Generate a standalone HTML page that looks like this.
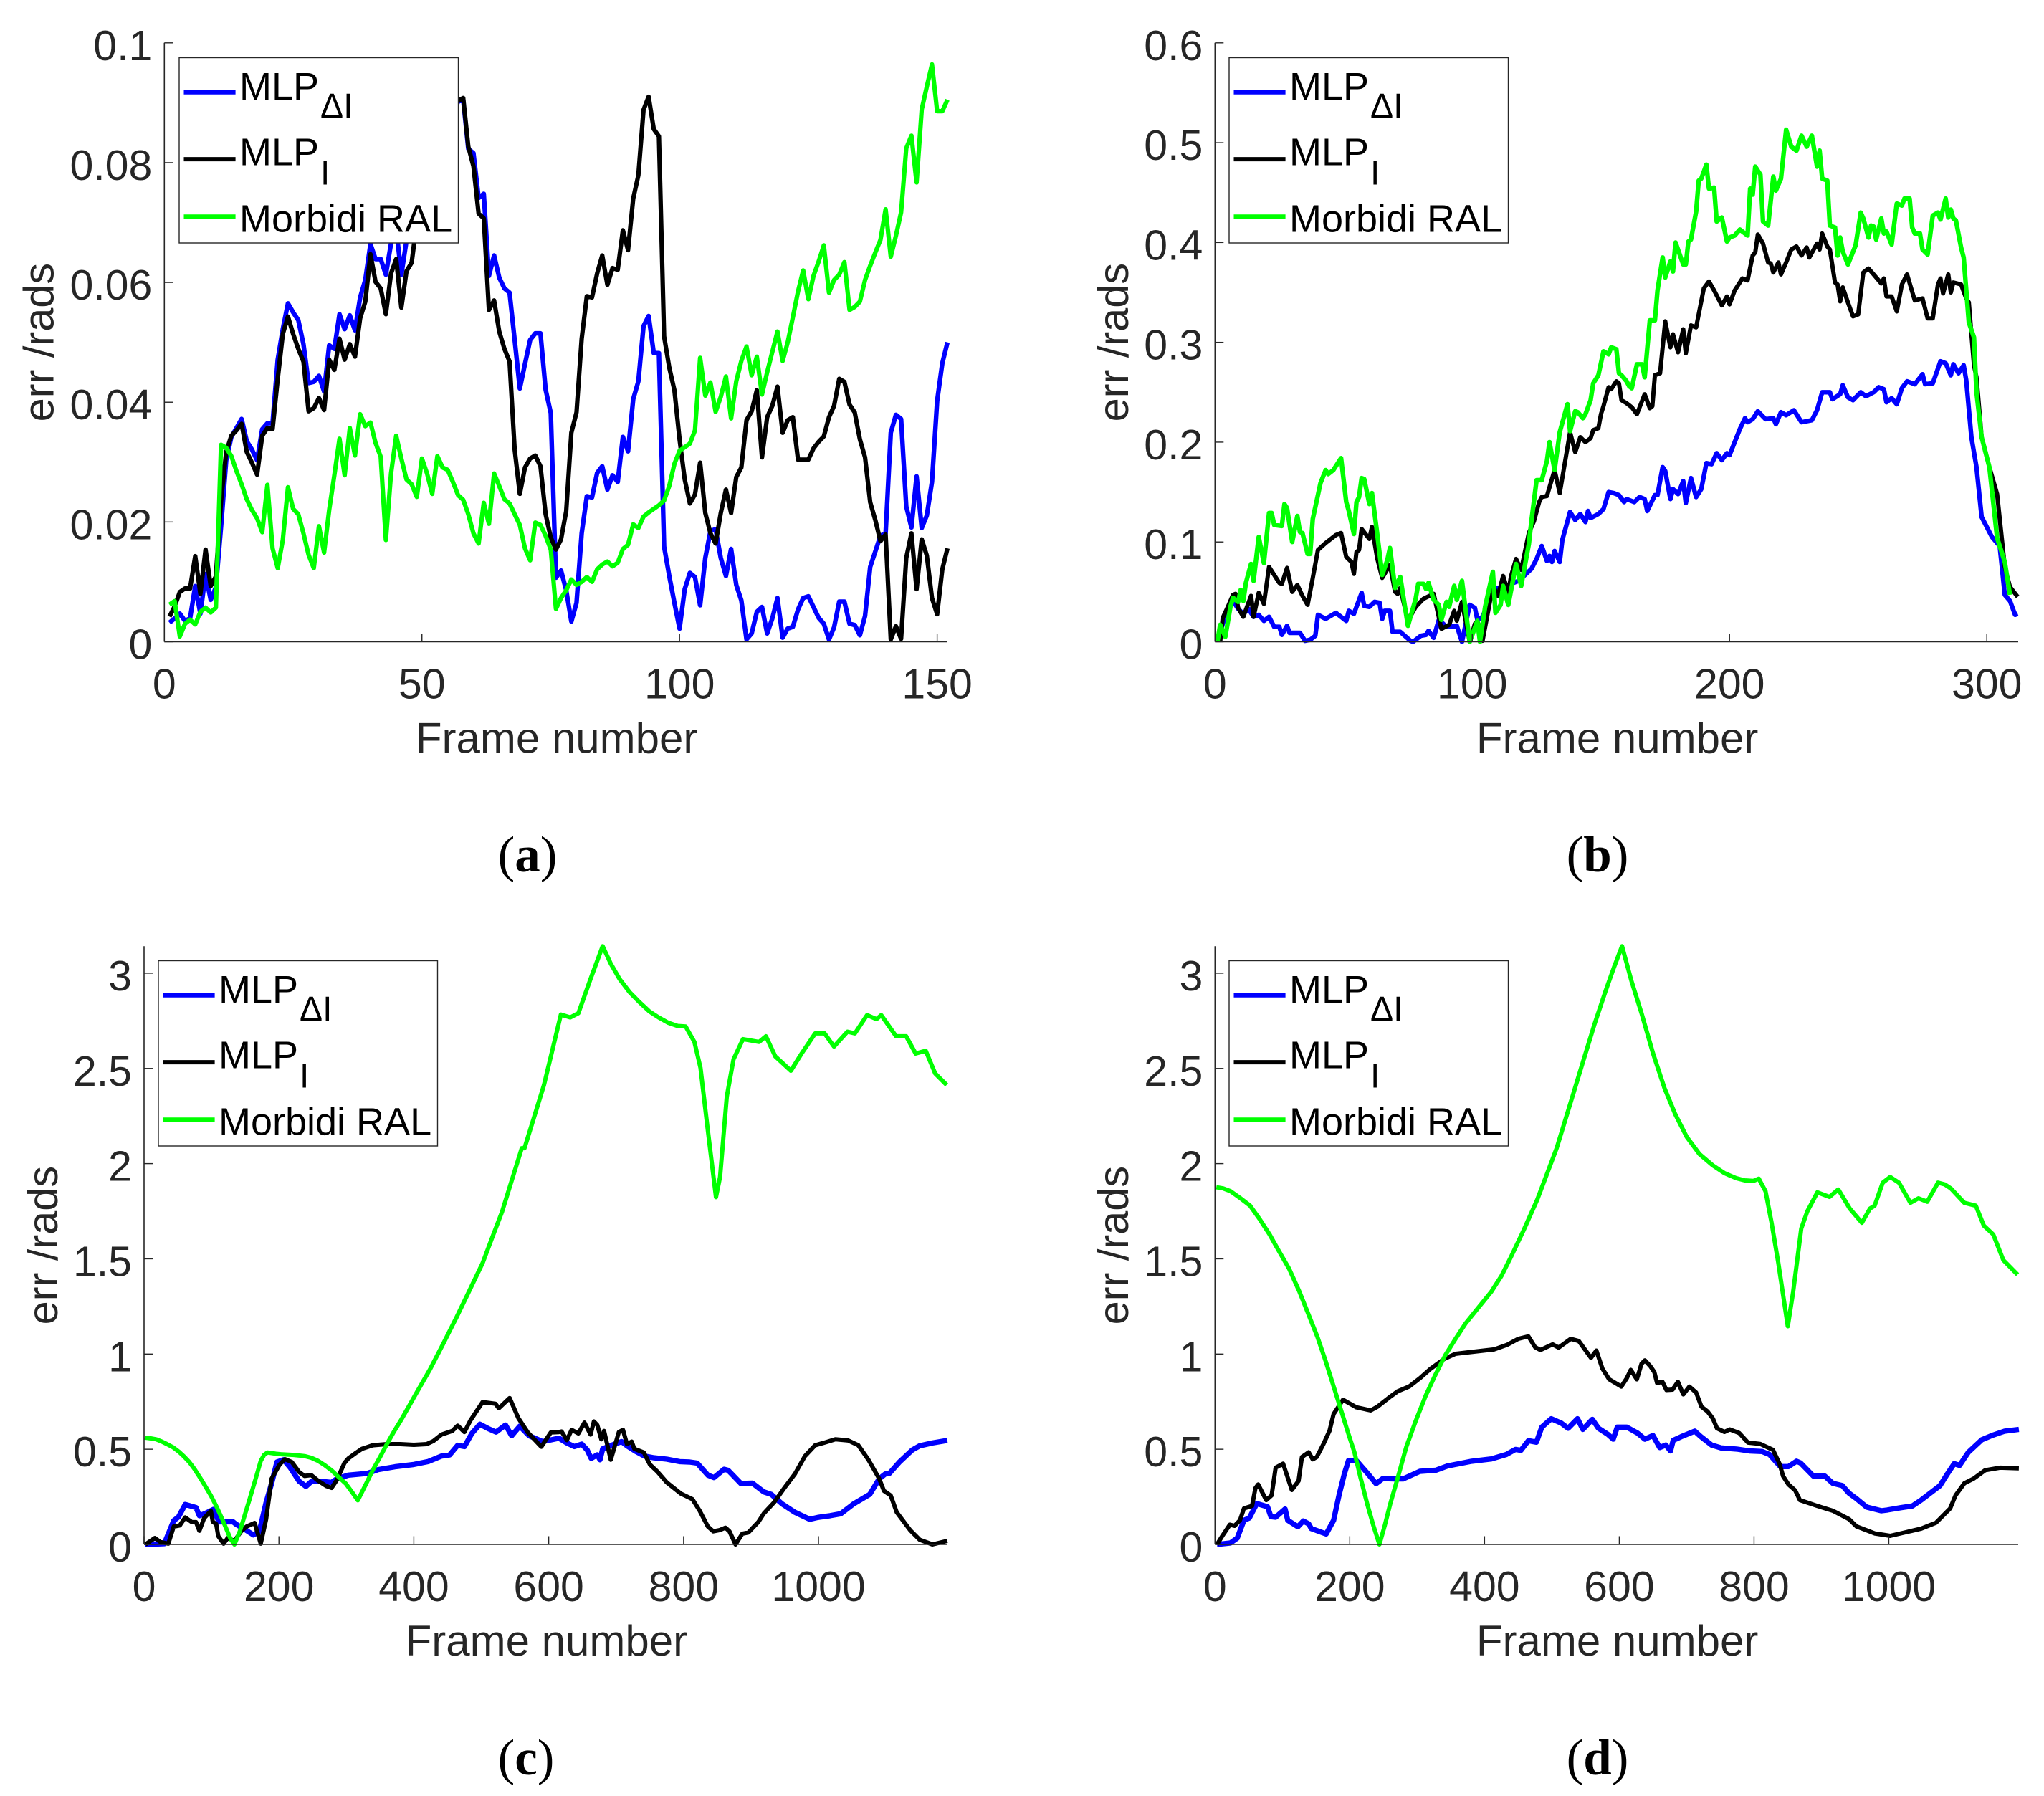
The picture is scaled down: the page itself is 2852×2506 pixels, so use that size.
<!DOCTYPE html>
<html lang="en">
<head>
<meta charset="utf-8">
<title>Frame error comparison charts</title>
<style>
html,body{margin:0;padding:0;background:#fff;}
svg{display:block;font-family:"Liberation Sans",sans-serif;}
</style>
</head>
<body>
<svg id="figure" xmlns="http://www.w3.org/2000/svg" width="2852" height="2506" viewBox="0 0 2852 2506"></svg>
<script>
// Panel (a): one value per frame, starting at frame 1
const aBlueValues=[.0032,.0039,.0047,.0035,.0039,.0093,.0047,.0113,.0070,.0091,
.0192,.0303,.0342,.0357,.0372,.0335,.0321,.0303,.0355,.0365,
.0365,.0471,.0522,.0565,.0550,.0537,.0497,.0432,.0434,.0444,
.0418,.0495,.0489,.0547,.0522,.0545,.0520,.0575,.0604,.0664,
.0639,.0639,.0613,.0665,.0690,.0613,.0670,.0720,.0740,.0780,
.0800,.0820,.0840,.0860,.0880,.0880,.0902,.0905,.0823,.0816,
.0741,.0748,.0611,.0645,.0608,.0590,.0583,.0504,.0423,.0464,
.0504,.0515,.0515,.0421,.0382,.0107,.0119,.0086,.0034,.0065,
.0181,.0243,.0241,.0282,.0293,.0254,.0278,.0267,.0342,.0318,
.0405,.0435,.0527,.0544,.0482,.0482,.0159,.0110,.0065,.0022,
.0088,.0115,.0108,.0061,.0140,.0185,.0188,.0140,.0110,.0155,
.0095,.0069,.0004,.0014,.0050,.0058,.0014,.0039,.0073,.0007,
.0022,.0025,.0054,.0073,.0076,.0058,.0040,.0030,.0004,.0024,
.0067,.0067,.0030,.0028,.0011,.0043,.0125,.0151,.0177,.0181,
.0349,.0379,.0372,.0226,.0191,.0276,.0190,.0211,.0267,.0402,.0465,.0500];
const aBlackValues=[.0042,.0059,.0083,.0089,.0089,.0143,.0080,.0154,.0093,.0109,
.0235,.0317,.0344,.0353,.0364,.0317,.0299,.0279,.0344,.0357,
.0355,.0439,.0514,.0543,.0514,.0489,.0468,.0385,.0390,.0407,
.0387,.0471,.0454,.0506,.0471,.0497,.0476,.0540,.0568,.0647,
.0601,.0590,.0547,.0615,.0639,.0558,.0619,.0633,.0701,.0730,
.0750,.0780,.0820,.0840,.0870,.0880,.0903,.0908,.0827,.0794,
.0715,.0707,.0554,.0570,.0518,.0489,.0468,.0321,.0247,.0291,
.0306,.0311,.0293,.0213,.0174,.0154,.0171,.0218,.0349,.0383,
.0506,.0577,.0575,.0615,.0645,.0596,.0624,.0621,.0687,.0654,
.0740,.0779,.0888,.0910,.0856,.0844,.0510,.0458,.0420,.0338,
.0271,.0231,.0246,.0299,.0215,.0181,.0164,.0215,.0254,.0215,
.0275,.0291,.0370,.0385,.0420,.0308,.0375,.0394,.0426,.0349,
.0370,.0375,.0304,.0304,.0304,.0323,.0334,.0343,.0375,.0394,
.0439,.0434,.0396,.0383,.0338,.0308,.0233,.0203,.0168,.0179,
.0004,.0026,.0005,.0140,.0181,.0088,.0171,.0144,.0073,.0046,.0121,.0156];
const aGreenValues=[.0062,.0068,.0009,.0030,.0037,.0029,.0050,.0057,.0049,.0057,
.0329,.0324,.0310,.0285,.0263,.0238,.0220,.0206,.0183,.0262,
.0156,.0123,.0170,.0258,.0222,.0213,.0181,.0145,.0123,.0193,
.0149,.0220,.0278,.0339,.0278,.0357,.0311,.0380,.0360,.0366,
.0332,.0309,.0170,.0281,.0344,.0306,.0271,.0263,.0242,.0306,
.0281,.0247,.0310,.0291,.0287,.0267,.0245,.0237,.0213,.0181,
.0164,.0232,.0197,.0281,.0260,.0238,.0231,.0213,.0195,.0156,
.0136,.0199,.0195,.0177,.0154,.0055,.0073,.0086,.0104,.0095,
.0100,.0108,.0100,.0121,.0129,.0134,.0126,.0132,.0155,.0162,
.0196,.0190,.0209,.0216,.0222,.0228,.0236,.0260,.0297,.0319,
.0325,.0331,.0353,.0474,.0411,.0433,.0384,.0409,.0443,.0373,
.0435,.0469,.0493,.0445,.0476,.0413,.0450,.0484,.0518,.0469,
.0500,.0542,.0585,.0620,.0572,.0611,.0635,.0662,.0583,.0604,
.0613,.0634,.0554,.0559,.0568,.0604,.0628,.0650,.0671,.0722,
.0643,.0678,.0717,.0824,.0845,.0767,.0889,.0927,.0964,.0886,.0886,.0905];
const aFrames=aBlueValues.map(function(_,i){return i+1;});
const aXTicks=[0,50,100,150];
const aYTicks=[0,.02,.04,.06,.08,.1];
const aYTickLabels=['0','0.02','0.04','0.06','0.08','0.1'];

// Panel (b)
const bBlueFrames=[1,3,5,6,7,9,11,13,15,17,19,21,23,25,26,28,29,33,35,37,39,40,43,47,51,52,54,57,58,60,62,64,65,66,68,69,72,76,77,80,82,83,85,87,90,94,96,99,101,102,104,107,110,113,118,123,125,127,129,130,131,132,134,135,138,140,142,144,145,146,149,151,153,155,157,159,160,163,165,167,168,171,172,174,175,177,178,180,182,183,185,187,189,191,193,195,197,199,200,204,206,207,209,211,214,217,218,220,222,225,228,232,234,236,239,240,243,244,246,248,251,253,256,258,260,261,263,265,267,269,272,275,276,279,282,284,286,287,289,291,292,294,296,298,302,305,307,309,311,312];
const bBlueValues=[.001,.018,.033,.040,.041,.033,.028,.033,.025,.027,.021,.025,.015,.015,.007,.016,.009,.009,.001,.002,.006,.027,.023,.029,.021,.031,.028,.049,.036,.035,.040,.039,.023,.031,.031,.010,.010,.001,0,.006,.007,.011,.004,.022,.015,.016,0,.037,.034,.022,.025,.044,.054,.056,.061,.073,.083,.096,.081,.086,.080,.091,.080,.102,.130,.122,.128,.120,.131,.124,.128,.133,.150,.149,.147,.140,.143,.140,.145,.143,.131,.147,.147,.175,.171,.143,.153,.148,.161,.139,.164,.145,.153,.179,.178,.189,.182,.189,.187,.213,.224,.220,.223,.231,.223,.224,.218,.230,.227,.232,.220,.222,.232,.250,.250,.243,.248,.257,.245,.242,.250,.246,.250,.255,.253,.240,.244,.238,.254,.261,.258,.268,.258,.259,.281,.279,.267,.278,.269,.277,.262,.205,.175,.125,.105,.096,.047,.041,.027,.028];
const bBlackFrames=[2,3,5,7,8,9,11,14,15,17,19,21,25,26,28,30,32,34,36,38,40,43,47,49,51,53,54,55,56,57,60,61,63,65,68,70,71,72,75,78,81,85,88,91,93,94,96,99,101,102,104,108,110,112,114,115,117,119,122,124,126,127,129,132,134,138,140,142,144,146,147,149,150,151,153,154,156,157,158,160,162,164,167,169,170,171,173,175,177,178,180,182,183,185,187,190,192,194,197,199,200,202,205,207,209,210,211,213,215,216,217,219,220,222,224,226,228,230,231,234,235,236,238,239,241,242,243,244,246,248,250,252,254,256,259,260,261,263,265,267,269,272,275,277,279,281,282,283,285,286,287,290,292,293,295,296,298,301,304,307,309,312];
const bBlackValues=[0,.024,.035,.047,.048,.034,.025,.046,.025,.049,.038,.075,.059,.058,.074,.050,.057,.046,.037,.064,.092,.099,.107,.109,.085,.080,.068,.090,.092,.113,.103,.115,.084,.064,.077,.050,.048,.054,.021,.035,.043,.048,.013,.017,.031,.021,.040,0,.018,.021,.001,.056,.046,.066,.049,.065,.083,.072,.109,.121,.140,.145,.146,.172,.149,.210,.190,.205,.200,.204,.212,.214,.228,.236,.255,.253,.261,.259,.242,.239,.235,.228,.248,.234,.236,.267,.269,.321,.295,.308,.290,.313,.289,.317,.315,.354,.361,.352,.337,.346,.338,.352,.364,.362,.387,.390,.408,.399,.380,.379,.370,.380,.368,.380,.393,.396,.387,.395,.385,.399,.393,.409,.396,.393,.360,.358,.341,.355,.340,.326,.328,.370,.374,.368,.359,.364,.346,.346,.331,.358,.368,.342,.344,.324,.324,.358,.364,.349,.368,.350,.360,.358,.344,.340,.277,.265,.205,.175,.148,.075,.055,.045];
const bGreenFrames=[1,2,4,6,7,9,10,11,12,14,15,17,19,21,22,23,26,27,28,30,32,33,34,36,37,38,41,43,44,46,49,51,52,54,55,56,57,58,60,61,63,65,67,68,70,72,75,78,79,81,82,83,85,87,88,90,91,93,94,96,99,102,103,105,108,109,111,112,114,116,117,119,122,123,125,127,129,130,132,134,137,138,140,141,143,144,146,147,149,151,153,154,156,157,158,160,161,162,164,166,167,169,171,172,174,175,177,178,179,182,183,184,185,187,188,189,191,192,194,195,197,199,200,202,204,207,208,209,210,212,213,215,217,218,220,222,224,226,228,230,232,234,235,236,238,239,241,242,243,244,246,249,251,252,254,255,256,257,259,260,261,263,265,267,268,270,271,272,274,275,277,279,281,282,284,285,286,287,288,290,291,293,295,296,298,301,304,307,309,312];
const bGreenValues=[.001,.017,.005,.035,.044,.040,.052,.041,.059,.078,.061,.105,.079,.129,.129,.117,.116,.138,.134,.100,.126,.110,.109,.088,.088,.123,.159,.172,.168,.172,.184,.140,.131,.108,.140,.145,.164,.163,.138,.149,.109,.067,.082,.094,.054,.065,.016,.043,.058,.058,.053,.059,.042,.037,.022,.040,.035,.056,.042,.061,0,.021,0,.035,.070,.029,.037,.056,.037,.064,.078,.056,.098,.121,.162,.162,.181,.200,.172,.210,.238,.211,.231,.230,.224,.228,.242,.259,.267,.291,.288,.295,.293,.269,.267,.261,.256,.254,.278,.278,.265,.322,.322,.352,.385,.365,.381,.371,.400,.378,.378,.401,.403,.431,.462,.464,.478,.454,.455,.421,.425,.401,.405,.407,.413,.407,.454,.448,.476,.468,.421,.417,.466,.452,.464,.513,.496,.492,.507,.496,.507,.476,.492,.464,.462,.417,.415,.387,.405,.391,.378,.397,.430,.424,.405,.417,.416,.403,.424,.409,.411,.398,.439,.437,.444,.444,.415,.409,.409,.393,.388,.427,.430,.423,.444,.425,.433,.424,.422,.395,.385,.320,.305,.250,.205,.175,.104,.080,.047];
const bXTicks=[0,100,200,300];
const bYTicks=[0,.1,.2,.3,.4,.5,.6];
const bYTickLabels=['0','0.1','0.2','0.3','0.4','0.5','0.6'];

// Panel (c)
const cBlueFrames=[2,30,36,44,51,61,77,82,91,103,111,132,136,148,162,171,181,189,197,207,217,230,240,248,266,278,286,303,331,347,372,400,421,441,453,465,475,486,498,510,522,536,545,557,571,591,615,627,638,649,657,663,672,676,680,693,708,716,729,742,756,775,794,809,820,836,845,860,866,885,902,919,930,946,965,987,999,1017,1033,1052,1076,1090,1099,1105,1120,1139,1150,1169,1191];
const cBlueValues=[0,.004,.056,.125,.144,.210,.194,.151,.163,.184,.119,.119,.107,.082,.050,.069,.220,.320,.433,.445,.402,.332,.305,.330,.330,.326,.345,.364,.373,.393,.408,.420,.435,.464,.470,.521,.514,.583,.631,.609,.590,.627,.571,.621,.571,.540,.558,.533,.514,.527,.496,.452,.471,.445,.502,.521,.540,.518,.489,.464,.455,.448,.435,.433,.427,.364,.351,.395,.389,.320,.322,.276,.263,.213,.169,.132,.142,.151,.161,.213,.263,.345,.370,.373,.433,.496,.518,.533,.546];
const cBlackFrames=[2,16,24,36,44,53,61,71,77,82,89,99,102,107,110,118,124,134,144,152,164,173,181,189,201,209,219,230,238,248,258,270,278,286,297,303,315,323,339,360,380,400,419,429,441,457,465,475,484,502,521,526,542,555,569,589,603,615,619,627,634,644,653,662,667,672,678,682,692,704,710,716,723,727,741,750,761,775,796,813,824,836,844,853,862,868,877,887,896,911,919,934,949,965,980,995,1010,1025,1044,1059,1074,1090,1097,1107,1116,1136,1150,1169,1191];
const cBlackValues=[0,.034,.013,.004,.094,.100,.142,.117,.117,.072,.138,.176,.119,.107,.044,.004,.034,.019,.069,.094,.113,.004,.132,.345,.420,.448,.433,.380,.360,.364,.335,.307,.297,.339,.427,.452,.483,.502,.521,.527,.527,.523,.527,.543,.577,.596,.624,.590,.652,.748,.739,.715,.769,.663,.588,.513,.588,.590,.593,.548,.602,.583,.640,.577,.646,.627,.552,.596,.445,.590,.602,.527,.540,.502,.483,.420,.383,.326,.267,.238,.176,.094,.069,.075,.088,.069,0,.056,.063,.119,.163,.220,.295,.370,.464,.521,.536,.552,.546,.521,.445,.345,.282,.257,.169,.075,.025,0,.019];
const cGreenFrames=[1,10,18,26,34,43,51,59,67,75,83,91,99,108,116,128,134,142,149,156,165,173,178,183,195,205,222,238,248,258,268,278,288,299,308,317,328,339,350,360,371,382,403,424,443,463,482,502,516,531,545,560,564,578,593,605,618,632,644,662,680,692,705,720,734,749,763,777,791,803,816,825,835,848,854,864,874,888,912,922,936,959,975,995,1009,1023,1043,1054,1072,1086,1093,1115,1130,1144,1159,1173,1190];
const cGreenValues=[.561,.557,.552,.541,.527,.51,.489,.463,.433,.395,.351,.305,.257,.195,.132,.031,0,.069,.15,.232,.34,.439,.47,.483,.477,.473,.47,.464,.455,.439,.416,.389,.356,.320,.277,.232,.31,.389,.46,.527,.595,.659,.79,.920,1.05,1.191,1.33,1.478,1.61,1.749,1.91,2.081,2.081,2.24,2.413,2.59,2.783,2.768,2.79,2.97,3.142,3.05,2.97,2.90,2.85,2.80,2.768,2.74,2.723,2.72,2.639,2.503,2.201,1.824,1.930,2.352,2.548,2.654,2.639,2.669,2.563,2.488,2.578,2.684,2.684,2.615,2.693,2.684,2.78,2.759,2.78,2.669,2.669,2.578,2.593,2.473,2.413];
const cXTicks=[0,200,400,600,800,1000];
const cYTicks=[0,.5,1,1.5,2,2.5,3];
const cYTickLabels=['0','0.5','1','1.5','2','2.5','3'];

// Panel (d)
const dBlueFrames=[3,23,33,43,51,62,78,83,90,104,108,123,131,139,143,165,176,184,192,198,210,227,239,249,267,279,304,328,345,381,410,432,446,454,465,477,485,499,514,524,538,546,560,569,583,591,597,611,627,638,650,660,669,676,680,692,712,721,737,751,774,793,812,823,839,851,863,869,888,905,917,931,941,952,967,989,998,1018,1035,1048,1076,1087,1097,1105,1118,1138,1153,1172,1193];
const dBlueValues=[0,.008,.033,.127,.139,.215,.198,.146,.143,.186,.127,.093,.123,.108,.083,.055,.127,.258,.371,.440,.440,.371,.319,.346,.344,.344,.384,.390,.412,.437,.449,.472,.499,.494,.545,.537,.616,.660,.637,.610,.660,.604,.657,.610,.578,.553,.616,.616,.585,.553,.572,.509,.522,.491,.547,.566,.595,.566,.522,.507,.501,.491,.488,.472,.409,.409,.437,.428,.359,.359,.321,.309,.269,.240,.196,.177,.181,.193,.202,.233,.309,.371,.424,.415,.484,.550,.572,.595,.604];
const dBlackFrames=[3,11,22,29,37,43,55,60,64,76,84,90,101,114,124,129,139,145,151,161,170,176,190,210,231,241,259,271,288,304,320,340,357,381,414,434,450,465,475,483,501,510,528,540,558,566,575,585,603,611,617,626,633,638,646,652,656,664,670,679,687,695,704,714,722,731,739,745,756,764,778,791,809,828,838,843,851,861,868,894,917,941,952,979,1002,1025,1048,1070,1091,1099,1112,1126,1143,1165,1193];
const dBlackValues=[0,.045,.104,.098,.127,.189,.202,.296,.315,.233,.258,.403,.424,.286,.334,.459,.484,.447,.459,.528,.597,.685,.760,.720,.704,.723,.773,.804,.829,.873,.923,.974,1.001,1.011,1.024,1.049,1.080,1.093,1.036,1.021,1.051,1.034,1.080,1.068,.980,1.018,.923,.867,.829,.873,.917,.867,.949,.967,.936,.905,.848,.854,.811,.813,.854,.788,.829,.798,.723,.698,.660,.610,.591,.604,.585,.535,.528,.497,.422,.359,.315,.284,.233,.202,.177,.133,.095,.058,.045,.064,.083,.114,.189,.258,.321,.346,.390,.403,.400];
const dGreenFrames=[2,12,23,37,52,66,81,95,110,125,139,152,164,176,188,198,207,216,226,235,244,252,260,272,284,298,313,327,342,357,372,390,410,425,439,458,478,492,507,526,546,563,580,592,604,618,633,650,667,683,700,719,739,756,773,786,799,807,817,826,836,850,858,870,879,894,912,925,942,960,972,979,991,1002,1015,1032,1044,1057,1073,1083,1092,1112,1129,1141,1155,1170,1191];
const dGreenValues=[1.876,1.87,1.855,1.82,1.779,1.71,1.628,1.54,1.448,1.33,1.206,1.09,.965,.83,.694,.58,.483,.35,.211,.10,0,.10,.211,.36,.513,.65,.784,.89,.995,1.08,1.161,1.24,1.327,1.41,1.508,1.65,1.809,1.94,2.081,2.30,2.533,2.73,2.91,3.03,3.142,2.96,2.79,2.58,2.397,2.26,2.141,2.05,1.99,1.95,1.924,1.912,1.909,1.921,1.855,1.689,1.478,1.146,1.327,1.659,1.749,1.849,1.825,1.864,1.764,1.689,1.764,1.779,1.900,1.930,1.900,1.794,1.818,1.800,1.900,1.891,1.870,1.794,1.779,1.674,1.628,1.493,1.417];
const dXTicks=[0,200,400,600,800,1000];
const dYTicks=[0,.5,1,1.5,2,2.5,3];
const dYTickLabels=['0','0.5','1','1.5','2','2.5','3'];

const legendMain=['MLP','MLP','Morbidi RAL'];
const legendSub=['\u0394I','I',''];
const seriesColors=['#0000ff','#000000','#00ff00'];

const NS='http://www.w3.org/2000/svg';
const root=document.getElementById('figure');

function mk(parent,tag,attrs,text){
  const el=document.createElementNS(NS,tag);
  for(const k in attrs){el.setAttribute(k,attrs[k]);}
  if(text!==undefined){el.textContent=text;}
  parent.appendChild(el);
  return el;
}

function drawPanel(id,box,xMax,yMax,xTicks,yTicks,yLabels,series,widths,legendBox,caption){
  const X=function(v){return box.left+v*(box.right-box.left)/xMax;};
  const Y=function(v){return box.bottom-v*(box.bottom-box.top)/yMax;};
  const g=mk(root,'g',{});
  
  

  series.forEach(function(s,i){
    let pts='';
    for(let k=0;k<s.values.length;k++){pts+=X(s.frames[k]).toFixed(1)+','+Y(s.values[k]).toFixed(1)+' ';}
    const line=mk(g,'polyline',{points:pts,fill:'none',stroke:seriesColors[i],'stroke-width':widths[i],'stroke-linejoin':'round'});
    
    
  });

  const yAxis=mk(g,'line',{x1:box.left,x2:box.left,y1:box.top,y2:box.bottom,stroke:'#262626','stroke-width':1.6});
  
  
  const xAxis=mk(g,'line',{x1:box.left,x2:box.right,y1:box.bottom,y2:box.bottom,stroke:'#262626','stroke-width':1.6});
  
  

  xTicks.forEach(function(t){
    mk(g,'line',{x1:X(t),x2:X(t),y1:box.bottom,y2:box.bottom-11.5,stroke:'#262626','stroke-width':1.4});
    const lab=mk(g,'text',{x:X(t),y:box.bottom+79,'text-anchor':'middle','font-size':59,fill:'#262626'},String(t));
    
    
  });
  yTicks.forEach(function(t,i){
    mk(g,'line',{x1:box.left,x2:box.left+12,y1:Y(t),y2:Y(t),stroke:'#262626','stroke-width':1.4});
    const lab=mk(g,'text',{x:box.left-17,y:Y(t)+24,'text-anchor':'end','font-size':59,fill:'#262626'},yLabels[i]);
    
    
  });

  const xTitle=mk(g,'text',{x:(box.left+box.right)/2+1,y:box.bottom+155,'text-anchor':'middle','font-size':60,fill:'#262626'},'Frame number');
  
  
  const cy=(box.top+box.bottom)/2;
  const yTitle=mk(g,'text',{x:box.titleX,y:cy,'text-anchor':'middle','font-size':59.5,fill:'#262626',transform:'rotate(-90 '+box.titleX+' '+cy+')'},'err /rads');
  
  

  const lg=mk(g,'g',{});
  
  
  mk(lg,'rect',{x:legendBox.x,y:legendBox.y,width:389.5,height:258.5,fill:'#ffffff',stroke:'#262626','stroke-width':1.4});
  const lineYs=[48.3,141.6,221.8];
  const textYs=[58.5,150.2,243];
  const subYs=[83.5,177];
  legendMain.forEach(function(name,i){
    const sw=mk(lg,'line',{x1:legendBox.x+6.5,x2:legendBox.x+78.6,y1:legendBox.y+lineYs[i],y2:legendBox.y+lineYs[i],stroke:seriesColors[i],'stroke-width':6});
    
    
    const tx=mk(lg,'text',{x:legendBox.x+84,y:legendBox.y+textYs[i],'font-size':54,fill:'#000000'},name);
    
    
    if(legendSub[i]){
      const sb=mk(lg,'text',{x:legendBox.x+197,y:legendBox.y+subYs[i],'font-size':48,fill:'#000000'},legendSub[i]);
      
      
    }
  });

  const cap=mk(g,'text',{x:caption.x,y:caption.y,'text-anchor':'middle','font-size':71,fill:'#000000','font-family':'"Liberation Serif",serif'});
  
  
  mk(cap,'tspan',{},'(');
  mk(cap,'tspan',{'font-weight':'bold'},id);
  mk(cap,'tspan',{},')');
}

drawPanel('a',{left:229.3,right:1322,top:59.8,bottom:895.5,titleX:74.6},152,.1,aXTicks,aYTicks,aYTickLabels,[
  {key:'mlp-delta-i',frames:aFrames,values:aBlueValues},
  {key:'mlp-i',frames:aFrames,values:aBlackValues},
  {key:'morbidi-ral',frames:aFrames,values:aGreenValues}
],[6.4,6.2,6.2],{x:250,y:80.5},{x:736,y:1216});

drawPanel('b',{left:1695.3,right:2816,top:59.8,bottom:895.5,titleX:1574},312.2,.6,bXTicks,bYTicks,bYTickLabels,[
  {key:'mlp-delta-i',frames:bBlueFrames,values:bBlueValues},
  {key:'mlp-i',frames:bBlackFrames,values:bBlackValues},
  {key:'morbidi-ral',frames:bGreenFrames,values:bGreenValues}
],[6.4,6,6.4],{x:1715,y:80.5},{x:2229,y:1216});

drawPanel('c',{left:201,right:1321.8,top:1320.3,bottom:2155,titleX:80},1191,3.1416,cXTicks,cYTicks,cYTickLabels,[
  {key:'mlp-delta-i',frames:cBlueFrames,values:cBlueValues},
  {key:'mlp-i',frames:cBlackFrames,values:cBlackValues},
  {key:'morbidi-ral',frames:cGreenFrames,values:cGreenValues}
],[7.4,6,6],{x:221,y:1340.5},{x:734,y:2476});

drawPanel('d',{left:1695.3,right:2816,top:1320.3,bottom:2155,titleX:1574},1192,3.1416,dXTicks,dYTicks,dYTickLabels,[
  {key:'mlp-delta-i',frames:dBlueFrames,values:dBlueValues},
  {key:'mlp-i',frames:dBlackFrames,values:dBlackValues},
  {key:'morbidi-ral',frames:dGreenFrames,values:dGreenValues}
],[7.4,6,6],{x:1715,y:1340.5},{x:2229,y:2476});
</script>
</body>
</html>
